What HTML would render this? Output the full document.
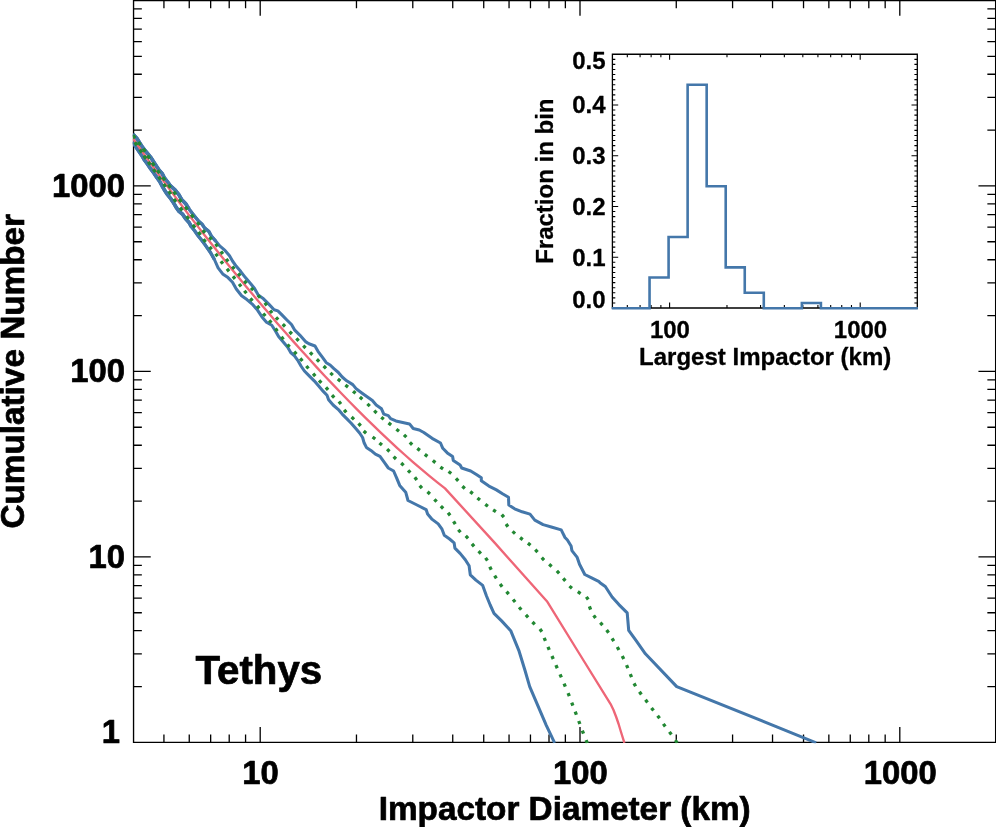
<!DOCTYPE html>
<html><head><meta charset="utf-8"><title>Tethys</title>
<style>html,body{margin:0;padding:0;background:#fff;}body{width:996px;height:827px;overflow:hidden;}svg{display:block;will-change:transform;}text{font-family:"Liberation Sans",sans-serif;font-weight:bold;fill:#000;stroke:#000;stroke-width:0.7px;stroke-linejoin:round;}.in text{stroke-width:0.3px;}</style></head><body>
<svg width="996" height="827" viewBox="0 0 996 827">
<rect width="996" height="827" fill="#fff"/>
<g stroke="#000" stroke-width="1.35" fill="none" stroke-linecap="butt">
<path d="M132.875 0.45H996.3249999999999M132.875 742.4H996.3249999999999M133.55 0.45V742.4M995.65 0.45V742.4"/>
<path stroke-width="1.3" d="M163.93 742.4v-7.8M163.93 0.45v7.8M189.25 742.4v-7.8M189.25 0.45v7.8M210.66 742.4v-7.8M210.66 0.45v7.8M229.21 742.4v-7.8M229.21 0.45v7.8M245.57 742.4v-7.8M245.57 0.45v7.8M260.20 742.4v-15.3M260.20 0.45v15.3M356.47 742.4v-7.8M356.47 0.45v7.8M412.78 742.4v-7.8M412.78 0.45v7.8M452.74 742.4v-7.8M452.74 0.45v7.8M483.73 742.4v-7.8M483.73 0.45v7.8M509.05 742.4v-7.8M509.05 0.45v7.8M530.46 742.4v-7.8M530.46 0.45v7.8M549.01 742.4v-7.8M549.01 0.45v7.8M565.37 742.4v-7.8M565.37 0.45v7.8M580.00 742.4v-15.3M580.00 0.45v15.3M676.27 742.4v-7.8M676.27 0.45v7.8M732.58 742.4v-7.8M732.58 0.45v7.8M772.54 742.4v-7.8M772.54 0.45v7.8M803.53 742.4v-7.8M803.53 0.45v7.8M828.85 742.4v-7.8M828.85 0.45v7.8M850.26 742.4v-7.8M850.26 0.45v7.8M868.81 742.4v-7.8M868.81 0.45v7.8M885.17 742.4v-7.8M885.17 0.45v7.8M899.80 742.4v-15.3M899.80 0.45v15.3M133.55 686.56h8.3M995.65 686.56h-8.3M133.55 653.90h8.3M995.65 653.90h-8.3M133.55 630.72h8.3M995.65 630.72h-8.3M133.55 612.75h8.3M995.65 612.75h-8.3M133.55 598.06h8.3M995.65 598.06h-8.3M133.55 585.64h8.3M995.65 585.64h-8.3M133.55 574.89h8.3M995.65 574.89h-8.3M133.55 565.40h8.3M995.65 565.40h-8.3M133.55 556.91h17.2M995.65 556.91h-17.2M133.55 501.07h8.3M995.65 501.07h-8.3M133.55 468.41h8.3M995.65 468.41h-8.3M133.55 445.23h8.3M995.65 445.23h-8.3M133.55 427.26h8.3M995.65 427.26h-8.3M133.55 412.57h8.3M995.65 412.57h-8.3M133.55 400.15h8.3M995.65 400.15h-8.3M133.55 389.40h8.3M995.65 389.40h-8.3M133.55 379.91h8.3M995.65 379.91h-8.3M133.55 371.42h17.2M995.65 371.42h-17.2M133.55 315.58h8.3M995.65 315.58h-8.3M133.55 282.92h8.3M995.65 282.92h-8.3M133.55 259.74h8.3M995.65 259.74h-8.3M133.55 241.77h8.3M995.65 241.77h-8.3M133.55 227.08h8.3M995.65 227.08h-8.3M133.55 214.66h8.3M995.65 214.66h-8.3M133.55 203.91h8.3M995.65 203.91h-8.3M133.55 194.42h8.3M995.65 194.42h-8.3M133.55 185.93h17.2M995.65 185.93h-17.2M133.55 130.09h8.3M995.65 130.09h-8.3M133.55 97.43h8.3M995.65 97.43h-8.3M133.55 74.25h8.3M995.65 74.25h-8.3M133.55 56.28h8.3M995.65 56.28h-8.3M133.55 41.59h8.3M995.65 41.59h-8.3M133.55 29.17h8.3M995.65 29.17h-8.3M133.55 18.42h8.3M995.65 18.42h-8.3M133.55 8.93h8.3M995.65 8.93h-8.3"/>
</g>
<clipPath id="cp"><rect x="132.85000000000002" y="0" width="864.0999999999999" height="743.1999999999999"/></clipPath>
<g clip-path="url(#cp)" fill="none" stroke-linejoin="round" stroke-linecap="butt">
<path d="M133.0 134.2L137.0 138.6L139.6 142.7L142.2 146.8L145.2 150.6L148.0 154.0L151.2 158.0L153.6 161.8L155.7 165.1L158.7 169.6L162.2 173.6L164.2 177.6L167.3 181.6L170.6 186.0L175.2 190.1L178.8 194.6L181.8 199.8L185.6 203.6L189.0 208.9L192.4 213.4L195.4 217.2L198.4 220.9L202.2 224.3L204.4 227.7L208.9 231.5L211.3 236.0L215.9 241.3L219.7 245.9L225.0 250.4L229.5 255.7L232.5 261.0L236.3 266.3L240.8 271.6L245.4 277.6L250.7 283.7L254.4 288.2L258.2 295.0L263.5 298.8L268.8 304.1L274.1 309.7L277.9 310.9L282.4 315.4L286.9 320.0L291.5 324.5L294.5 329.8L299.8 335.1L305.9 341.9L308.9 343.8L315.0 346.0L318.0 351.3L322.5 357.4L326.3 362.7L330.1 365.0L333.9 368.7L338.4 372.5L342.2 377.0L346.7 380.8L352.8 384.6L356.5 389.1L361.8 392.9L367.1 396.7L372.4 400.5L376.2 405.0L381.5 408.8L383.8 414.1L388.3 415.6L390.6 418.6L395.9 420.9L402.7 422.4L409.5 423.9L413.2 428.5L419.3 430.0L423.8 432.5L432.1 438.3L440.5 443.0L442.8 448.3L447.3 452.9L452.6 456.6L453.3 460.4L460.1 465.0L461.7 468.0L470.7 471.0L476.8 474.8L481.3 477.8L481.3 480.8L488.9 486.1L496.4 489.9L502.5 493.7L508.5 497.2L508.8 505.0L514.6 508.8L522.1 511.8L530.0 514.1L534.8 520.1L543.1 524.6L552.2 527.2L561.2 529.9L565.0 537.5L567.4 540.0L571.1 546.0L571.9 550.6L577.2 557.4L579.5 564.2L584.8 574.5L591.6 577.8L599.1 581.6L600.0 582.7L605.3 586.5L612.1 597.0L618.9 604.6L627.2 612.9L628.7 630.3L636.3 640.9L645.4 653.8L676.7 686.6L770.0 724.1L816.2 742.8" stroke="#4477aa" stroke-width="3.05"/>
<path d="M133.0 141.9L135.5 146.1L138.5 150.6L141.6 155.1L144.2 159.6L147.6 164.2L150.6 168.7L154.0 173.2L157.0 177.7L159.8 181.6L162.3 186.3L164.5 190.1L167.5 194.6L170.5 198.3L173.6 202.9L176.2 207.4L178.8 211.1L182.6 214.2L185.6 218.7L189.0 222.4L191.6 227.0L194.6 230.7L197.7 235.2L200.8 239.1L205.3 245.1L210.6 252.7L214.4 259.5L218.1 267.8L222.7 273.9L228.0 277.6L232.5 282.2L236.3 289.0L241.6 295.8L246.9 299.6L252.2 304.1L257.5 310.1L262.0 316.9L266.5 322.2L271.8 325.3L275.6 331.3L278.6 336.6L282.4 341.1L287.7 347.2L290.7 352.5L294.5 355.9L298.3 361.2L301.3 366.5L304.4 371.0L309.7 376.3L314.2 380.8L318.7 386.1L323.3 391.4L327.0 395.2L328.6 399.7L333.1 405.0L338.4 409.6L342.2 414.1L346.7 418.6L351.2 423.2L355.8 428.5L359.6 433.0L362.6 437.5L364.1 442.8L366.4 447.4L370.9 450.4L375.4 454.2L380.0 456.4L384.5 462.7L388.3 468.0L393.6 471.0L396.6 477.8L399.7 485.4L405.7 492.2L408.0 500.5L417.0 505.0L426.1 509.6L427.6 514.1L432.2 519.4L438.2 523.9L442.0 529.2L444.3 535.3L449.6 539.0L454.1 542.8L454.9 548.1L460.1 553.4L465.3 559.7L469.1 565.7L470.3 574.8L475.9 580.1L482.7 585.4L486.5 596.0L490.2 605.0L494.0 613.3L501.6 620.9L510.7 630.7L519.1 651.2L525.1 670.8L529.7 686.7L537.2 704.1L546.3 725.3L554.6 742.8" stroke="#4477aa" stroke-width="3.05"/>
<path d="M133.0 134.2L137.0 138.6L139.6 142.7L142.2 146.8L145.2 150.6L148.0 154.0L151.2 158.0L153.6 161.8L155.7 165.1L158.7 169.6L162.2 173.6L164.2 177.6L167.3 181.6L170.6 186.0L175.2 190.1L178.8 194.6L181.8 199.8L185.6 203.6L189.0 208.9L192.4 213.4L195.4 217.2L198.4 220.9L202.2 224.3L204.4 227.7L208.9 231.5L211.3 236.0L215.9 241.3" stroke="#4477aa" stroke-width="3.35"/>
<path d="M133.0 134.2L137.0 138.6L139.6 142.7L142.2 146.8L145.2 150.6L148.0 154.0L151.2 158.0L153.6 161.8L155.7 165.1L158.7 169.6L162.2 173.6L164.2 177.6L167.3 181.6L170.6 186.0L175.2 190.1L178.8 194.6L181.8 199.8L185.6 203.6L189.0 208.9" stroke="#4477aa" stroke-width="3.7"/>
<path d="M133.0 141.9L135.5 146.1L138.5 150.6L141.6 155.1L144.2 159.6L147.6 164.2L150.6 168.7L154.0 173.2L157.0 177.7L159.8 181.6L162.3 186.3L164.5 190.1L167.5 194.6L170.5 198.3L173.6 202.9L176.2 207.4L178.8 211.1L182.6 214.2L185.6 218.7L189.0 222.4L191.6 227.0L194.6 230.7L197.7 235.2L200.8 239.1L205.3 245.1L210.6 252.7L214.4 259.5" stroke="#4477aa" stroke-width="3.35"/>
<path d="M133.0 141.9L135.5 146.1L138.5 150.6L141.6 155.1L144.2 159.6L147.6 164.2L150.6 168.7L154.0 173.2L157.0 177.7L159.8 181.6L162.3 186.3L164.5 190.1L167.5 194.6L170.5 198.3L173.6 202.9L176.2 207.4L178.8 211.1L182.6 214.2L185.6 218.7L189.0 222.4L191.6 227.0" stroke="#4477aa" stroke-width="3.7"/>
<path d="M133.0 138.5L141.0 149.9L149.0 161.1L157.0 172.2L165.0 183.1L173.0 193.9L181.0 204.5L189.0 215.1L197.0 225.4L205.0 235.7L213.0 245.8L221.0 255.8L229.0 265.8L237.0 275.5L245.0 285.2L253.0 294.8L261.0 304.3L269.0 313.6L277.0 322.9L285.0 332.0L293.0 341.1L301.0 350.0L309.0 358.8L317.0 367.6L325.0 376.2L333.0 384.6L341.0 393.0L349.0 401.2L357.0 409.3L365.0 417.3L373.0 425.2L381.0 432.8L389.0 440.4L397.0 447.8L405.0 455.0L413.0 462.1L421.0 468.9L429.0 475.6L437.0 482.1L445.0 488.4L495.0 543.1L546.9 601.2L578.0 651.5L610.6 704.1L613.5 710.0L616.2 717.0L618.6 724.0L621.0 732.0L624.4 742.9" stroke="#ee6677" stroke-width="2.35"/>
<path d="M132.85 135.25L135.15 138.15M138.18 141.92L140.42 144.88M143.16 148.67L145.24 151.73M147.60 155.44L149.60 158.56M152.17 162.67L154.23 165.73M157.41 170.20L159.59 173.20M162.69 177.32L164.91 180.28M168.28 184.73L170.52 187.67M173.58 191.62L175.82 194.58M179.16 199.14L181.44 202.06M185.26 206.65L187.54 209.55M191.27 214.54L193.53 217.46M197.30 222.11L199.50 225.09M202.62 230.08L204.98 232.92M209.47 237.10L211.73 239.50M215.58 243.80L217.62 246.40M220.95 251.35L222.85 254.05M226.21 258.88L228.19 261.52M232.24 266.54L234.36 269.06M238.24 273.34L240.36 275.86M244.30 280.97L246.50 283.43M251.06 287.80L253.34 290.20M257.90 295.27L260.10 297.73M264.77 302.81L266.83 305.39M270.08 310.40L272.12 313.00M275.97 317.30L278.23 319.70M282.76 324.10L285.04 326.50M289.56 331.60L291.84 334.00M296.35 338.42L298.65 340.78M303.25 345.62L305.55 347.98M310.03 352.43L312.37 354.77M316.83 359.23L319.17 361.57M323.63 366.03L325.97 368.37M330.37 372.89L332.83 375.11M337.81 379.07L340.39 381.13M345.41 385.07L347.99 387.13M353.04 391.14L355.56 393.26M359.87 397.10L362.33 399.30M367.40 403.86L369.80 406.14M374.20 410.66L376.60 412.94M381.24 417.14L383.76 419.26M388.51 422.87L391.09 424.93M396.40 429.28L399.00 431.32M404.03 434.83L406.37 437.17M409.83 442.43L412.17 444.77M417.30 448.38L419.90 450.42M424.80 454.38L427.40 456.42M432.82 460.56L435.38 462.64M440.34 467.06L443.06 468.94M448.58 471.51L451.22 473.49M455.98 478.39L458.22 480.81M462.38 486.19L464.82 488.41M470.20 491.59L472.80 493.61M477.44 497.94L479.96 500.06M485.28 504.31L487.92 506.29M493.12 509.90L495.88 511.70M501.73 514.65L503.87 517.15M506.09 524.02L507.91 526.78M512.58 531.39L515.02 533.61M520.09 537.60L522.71 539.60M527.92 543.15L530.48 545.25M535.28 549.69L537.52 552.11M541.75 557.71L544.05 560.09M549.16 564.31L551.64 566.49M556.85 570.92L559.15 573.28M563.24 578.34L565.36 580.86M569.46 586.12L571.94 588.28M577.82 591.69L580.58 593.51M586.35 596.85L588.25 599.55M589.39 606.47L590.61 609.53M593.64 615.36L595.56 618.04M600.31 622.66L602.49 625.14M606.63 630.07L608.57 632.73M612.04 638.29L613.76 641.11M617.29 647.06L618.91 649.94M622.26 656.03L623.74 658.97M626.54 665.09L627.86 668.11M630.26 674.18L631.54 677.22M634.01 683.35L635.59 686.25M639.44 691.76L641.36 694.44M645.51 699.78L647.49 702.42M651.50 707.99L653.50 710.61M657.62 715.68L659.58 718.32M663.33 723.87L665.27 726.53M669.42 731.87L671.38 734.53M675.34 740.16L677.26 742.84" stroke="#228833" stroke-width="3.3"/>
<path d="M134.86 142.27L136.94 145.33M139.77 149.46L141.83 152.54M143.85 155.67L145.95 158.73M148.23 161.89L150.37 164.91M153.34 169.08L155.46 172.12M158.54 176.58L160.66 179.62M163.64 183.88L165.76 186.92M168.76 191.17L170.84 194.23M173.84 198.88L175.96 201.92M180.10 207.51L182.30 210.49M186.50 216.11L188.70 219.09M192.79 224.72L195.01 227.68M198.40 231.91L200.60 234.89M203.39 239.12L205.61 242.08M209.54 246.84L211.66 249.36M215.58 253.70L217.62 256.30M220.91 261.18L222.89 263.82M226.97 268.81L229.03 271.39M232.97 276.31L235.03 278.89M239.08 283.91L241.12 286.49M244.38 290.70L246.42 293.30M250.33 298.34L252.47 300.86M257.13 305.85L259.27 308.35M263.24 313.44L265.36 315.96M269.27 320.21L271.33 322.79M275.43 328.47L277.37 331.13M281.40 336.79L283.40 339.41M287.42 344.46L289.58 346.94M294.19 351.68L296.41 354.12M300.23 358.44L302.37 360.96M306.33 365.95L308.47 368.45M313.10 373.57L315.30 376.03M319.08 380.39L321.32 382.81M325.91 387.46L328.09 389.94M331.99 395.08L334.21 397.52M338.86 401.52L340.94 404.08M344.14 409.84L346.26 412.36M351.60 417.07L354.00 419.33M358.52 423.45L360.68 425.95M363.69 431.08L366.11 433.32M372.58 437.01L375.22 438.99M379.45 442.93L381.95 445.07M387.12 449.15L389.48 451.45M393.62 456.64L395.98 458.96M401.20 463.06L403.60 465.34M408.08 470.29L410.32 472.71M414.81 477.28L416.79 479.92M419.69 485.67L421.91 488.13M427.49 491.78L429.91 494.02M434.38 499.29L436.62 501.71M440.83 506.13L443.17 508.47M448.07 512.81L450.13 515.39M453.54 521.29L455.26 524.11M458.32 529.75L460.48 532.25M465.75 535.91L468.05 538.29M471.94 543.83L474.06 546.37M478.56 551.21L480.84 553.59M485.57 557.84L487.43 560.56M489.76 566.83L491.24 569.77M494.63 575.60L496.37 578.40M500.10 584.09L502.10 586.71M506.54 591.64L508.66 594.16M513.06 599.52L515.14 602.08M519.14 607.24L521.26 609.76M525.89 614.88L528.11 617.32M532.45 622.02L534.75 624.38M539.96 629.04L541.84 631.76M544.15 637.88L545.45 640.92M547.95 646.88L549.25 649.92M551.94 655.99L553.26 659.01M555.93 665.19L557.27 668.21M560.04 674.29L561.36 677.31M564.06 683.68L565.34 686.72M568.08 693.17L569.32 696.23M571.71 702.56L572.89 705.64M575.21 711.66L576.39 714.74M578.72 720.96L579.88 724.04M582.30 730.56L583.50 733.64M586.09 740.07L587.31 743.13" stroke="#228833" stroke-width="3.3"/>
</g>
<text x="260.6" y="784.2" font-size="32.8" text-anchor="middle" >10</text>
<text x="580.4" y="784.2" font-size="32.8" text-anchor="middle" >100</text>
<text x="900.2" y="784.2" font-size="32.8" text-anchor="middle" >1000</text>
<text x="125.0" y="567.7" font-size="32.8" text-anchor="end" >10</text>
<text x="125.0" y="382.2" font-size="32.8" text-anchor="end" >100</text>
<text x="125.0" y="196.7" font-size="32.8" text-anchor="end" >1000</text>
<text x="119.9" y="742.6" font-size="32.8" text-anchor="end" >1</text>
<text x="564.7" y="819.5" font-size="33.3" text-anchor="middle" >Impactor Diameter (km)</text>
<text transform="translate(23.8 371.3) rotate(-90)" font-size="33.3" text-anchor="middle">Cumulative Number</text>
<text x="195.4" y="683.7" font-size="40.3" text-anchor="start" >Tethys</text>
<g stroke="#000" fill="none">
<path stroke-width="1.3" d="M611.75 54.25H917.9499999999999M611.75 308.0H917.9499999999999M612.4 54.25V308.0M917.3 54.25V308.0"/>
<path stroke-width="1.1" d="M627.32 308.0v-2.9M627.32 54.25v2.9M640.08 308.0v-2.9M640.08 54.25v2.9M651.13 308.0v-2.9M651.13 54.25v2.9M660.88 308.0v-2.9M660.88 54.25v2.9M669.60 308.0v-5.4M669.60 54.25v5.4M726.98 308.0v-2.9M726.98 54.25v2.9M760.54 308.0v-2.9M760.54 54.25v2.9M784.35 308.0v-2.9M784.35 54.25v2.9M802.82 308.0v-2.9M802.82 54.25v2.9M817.92 308.0v-2.9M817.92 54.25v2.9M830.68 308.0v-2.9M830.68 54.25v2.9M841.73 308.0v-2.9M841.73 54.25v2.9M851.48 308.0v-2.9M851.48 54.25v2.9M860.20 308.0v-5.4M860.20 54.25v5.4M612.4 302.93h2.9M917.3 302.93h-2.9M612.4 297.85h2.9M917.3 297.85h-2.9M612.4 292.77h2.9M917.3 292.77h-2.9M612.4 287.70h2.9M917.3 287.70h-2.9M612.4 282.62h2.9M917.3 282.62h-2.9M612.4 277.55h2.9M917.3 277.55h-2.9M612.4 272.48h2.9M917.3 272.48h-2.9M612.4 267.40h2.9M917.3 267.40h-2.9M612.4 262.32h2.9M917.3 262.32h-2.9M612.4 257.25h5.8M917.3 257.25h-5.8M612.4 252.18h2.9M917.3 252.18h-2.9M612.4 247.10h2.9M917.3 247.10h-2.9M612.4 242.02h2.9M917.3 242.02h-2.9M612.4 236.95h2.9M917.3 236.95h-2.9M612.4 231.88h2.9M917.3 231.88h-2.9M612.4 226.80h2.9M917.3 226.80h-2.9M612.4 221.72h2.9M917.3 221.72h-2.9M612.4 216.65h2.9M917.3 216.65h-2.9M612.4 211.57h2.9M917.3 211.57h-2.9M612.4 206.50h5.8M917.3 206.50h-5.8M612.4 201.43h2.9M917.3 201.43h-2.9M612.4 196.35h2.9M917.3 196.35h-2.9M612.4 191.27h2.9M917.3 191.27h-2.9M612.4 186.20h2.9M917.3 186.20h-2.9M612.4 181.12h2.9M917.3 181.12h-2.9M612.4 176.05h2.9M917.3 176.05h-2.9M612.4 170.97h2.9M917.3 170.97h-2.9M612.4 165.90h2.9M917.3 165.90h-2.9M612.4 160.83h2.9M917.3 160.83h-2.9M612.4 155.75h5.8M917.3 155.75h-5.8M612.4 150.68h2.9M917.3 150.68h-2.9M612.4 145.60h2.9M917.3 145.60h-2.9M612.4 140.53h2.9M917.3 140.53h-2.9M612.4 135.45h2.9M917.3 135.45h-2.9M612.4 130.38h2.9M917.3 130.38h-2.9M612.4 125.30h2.9M917.3 125.30h-2.9M612.4 120.22h2.9M917.3 120.22h-2.9M612.4 115.15h2.9M917.3 115.15h-2.9M612.4 110.07h2.9M917.3 110.07h-2.9M612.4 105.00h5.8M917.3 105.00h-5.8M612.4 99.93h2.9M917.3 99.93h-2.9M612.4 94.85h2.9M917.3 94.85h-2.9M612.4 89.78h2.9M917.3 89.78h-2.9M612.4 84.70h2.9M917.3 84.70h-2.9M612.4 79.62h2.9M917.3 79.62h-2.9M612.4 74.55h2.9M917.3 74.55h-2.9M612.4 69.48h2.9M917.3 69.48h-2.9M612.4 64.40h2.9M917.3 64.40h-2.9M612.4 59.33h2.9M917.3 59.33h-2.9"/>
</g>
<path d="M611.80 308.30L649.55 308.30L649.55 277.55L668.59 277.55L668.59 236.95L687.63 236.95L687.63 84.70L706.67 84.70L706.67 186.20L725.71 186.20L725.71 267.40L744.75 267.40L744.75 292.77L763.79 292.77L763.79 308.30L801.87 308.30L801.87 302.93L820.91 302.93L820.91 308.30L917.90 308.30" fill="none" stroke="#4477aa" stroke-width="2.6" stroke-linejoin="miter"/>
<g class="in">
<text x="605.6" y="308.3" font-size="24.0" text-anchor="end" >0.0</text>
<text x="605.6" y="265.6" font-size="24.0" text-anchor="end" >0.1</text>
<text x="605.6" y="214.8" font-size="24.0" text-anchor="end" >0.2</text>
<text x="605.6" y="164.1" font-size="24.0" text-anchor="end" >0.3</text>
<text x="605.6" y="113.3" font-size="24.0" text-anchor="end" >0.4</text>
<text x="605.6" y="68.7" font-size="24.0" text-anchor="end" >0.5</text>
<text x="669.9" y="338.1" font-size="24.0" text-anchor="middle" >100</text>
<text x="860.5" y="338.1" font-size="24.0" text-anchor="middle" >1000</text>
<text x="765.2" y="364.5" font-size="24.0" text-anchor="middle" textLength="252.3" lengthAdjust="spacingAndGlyphs">Largest Impactor (km)</text>
<text transform="translate(553.0 181.2) rotate(-90)" font-size="24.0" text-anchor="middle">Fraction in bin</text>
</g>
</svg></body></html>
